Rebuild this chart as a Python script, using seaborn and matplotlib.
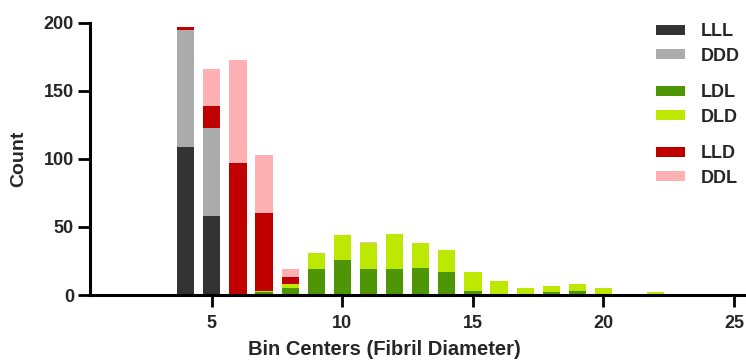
import numpy as np
import pandas as pd
import matplotlib
matplotlib.use("Agg")
import matplotlib.pyplot as plt
from matplotlib.patches import Patch
import seaborn as sns

# Bin centers (fibril diameter) and counts per group
bins = [4, 5, 6, 7, 8, 9, 10, 11, 12, 13, 14, 15, 16, 17, 18, 19, 20, 21, 22]
lll = [109, 58, 0, 0, 0, 0, 0, 0, 0, 0, 0, 0, 0, 0, 0, 0, 0, 0, 0]
ddd = [86, 65, 0, 0, 0, 0, 0, 0, 0, 0, 0, 0, 0, 0, 0, 0, 0, 0, 0]
ldl = [0, 0, 1, 2, 5, 19, 26, 19, 19, 20, 17, 3, 1, 1, 2, 3, 0, 0, 0]
dld = [0, 0, 0, 1, 3, 12, 18, 19, 26, 18, 16, 14, 9, 4, 5, 5, 5, 0, 2]
lld = [2, 16, 96, 57, 5, 0, 0, 0, 0, 0, 0, 0, 0, 0, 0, 0, 0, 0, 0]
ddl = [0, 27, 76, 43, 6, 0, 0, 1, 0, 0, 0, 0, 0, 0, 0, 0, 0, 0, 0]

groups = ["LLL", "DDD", "LDL", "DLD", "LLD", "DDL"]
series = [lll, ddd, ldl, dld, lld, ddl]
colors = ["#333333", "#ABABAB", "#4E9606", "#BDE800", "#C00000", "#FFB0B2"]

sns.set_theme(style="white")
plt.rcParams["font.family"] = ["Liberation Sans", "DejaVu Sans"]
plt.rcParams["font.weight"] = "bold"

fig = plt.figure(figsize=(7.46, 3.62), dpi=100)
ax = fig.add_axes([0.1206, 0.185, 0.878, 0.752])

# Stacked bars: draw cumulative totals from the top layer down
cum = np.cumsum(np.array(series, dtype=float), axis=0)
for i in range(len(groups) - 1, -1, -1):
    df = pd.DataFrame({"bin": bins, "count": cum[i]})
    sns.barplot(data=df, x="bin", y="count", native_scale=True, width=0.66,
                color=colors[i], saturation=1, linewidth=0, ax=ax)

ax.set_xlim(0.33, 25.42)
ax.set_ylim(0, 200)
ax.set_xticks([5, 10, 15, 20, 25])
ax.set_yticks([0, 50, 100, 150, 200])
ax.set_xlabel("Bin Centers (Fibril Diameter)", fontsize=14.5, fontweight="bold")
ax.set_ylabel("Count", fontsize=14, fontweight="bold", labelpad=12)
ax.xaxis.set_label_coords(0.45, -0.165)
ax.tick_params(axis="both", which="major", length=8.5, width=2, color="black",
               labelsize=13, bottom=True, left=True)
ax.tick_params(axis="x", pad=6)
ax.tick_params(axis="y", pad=3)
for lab in ax.get_xticklabels() + ax.get_yticklabels():
    lab.set_fontweight("bold")
sns.despine(ax=ax)
for side in ("left", "bottom"):
    ax.spines[side].set_linewidth(2.2)
    ax.spines[side].set_color("black")
ax.grid(False)

# Legend in three groups of two
W, H = 746, 362
group_pos = [(0, 44), (2, 105), (4, 166)]
for start, ycen in group_pos:
    handles = [Patch(facecolor=colors[j], edgecolor="none", label=groups[j])
               for j in (start, start + 1)]
    leg = fig.legend(handles=handles, loc="center left",
                     bbox_to_anchor=(656 / W, 1 - ycen / H),
                     frameon=False, fontsize=13, handlelength=1.6,
                     handleheight=0.5, handletextpad=0.9, labelspacing=0.4,
                     borderaxespad=0, borderpad=0)
    for t in leg.get_texts():
        t.set_fontweight("bold")

fig.savefig("out.png", dpi=100)
